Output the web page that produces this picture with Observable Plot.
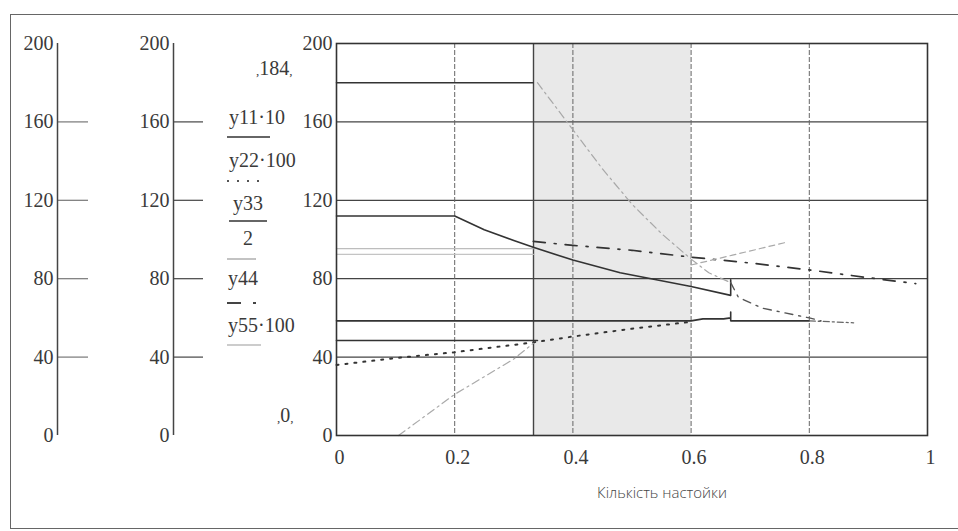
<!DOCTYPE html>
<html>
<head>
<meta charset="utf-8">
<script src="https://cdn.jsdelivr.net/npm/d3@7"></script>
<script src="https://cdn.jsdelivr.net/npm/@observablehq/plot@0.6"></script>
<style>
  body { margin: 0; background: #fff; }
  #wrap { position: relative; width: 958px; height: 531px; background: #fff; overflow: hidden; font-family: "Liberation Serif", "DejaVu Serif", serif; color: #3a3a3a; }
  .abs { position: absolute; }
  .lg { position: absolute; font-size: 20px; line-height: 20px; white-space: nowrap; color: #3a3a3a; }
  #outer { position: absolute; left: 10px; top: 14px; width: 1000px; height: 513px; border: 1.5px solid #666; border-right: none; }
  #xtitle { position: absolute; left: 662px; top: 482px; transform: translateX(-50%); font-family: "Open Sans", sans-serif; font-weight: 300; font-size: 15px; color: #444; white-space: nowrap; }
</style>
</head>
<body>
<div id="wrap">
  <div id="outer"></div>
  <div id="ax1" class="abs" style="left:0;top:0"></div>
  <div id="ax2" class="abs" style="left:0;top:0"></div>
  <div id="main" class="abs" style="left:0;top:0"></div>
  <div id="legend"></div>
  <div id="xtitle"></div>
</div>
<script>
// ---- tick values ----
const xTicks = [0, 0.2, 0.4, 0.6, 0.8, 1];
const yTicks = [0, 40, 80, 120, 160, 200];
const gridX = [0.2, 0.4, 0.6, 0.8];
const gridY = [40, 80, 120, 160];
const shadeX = [1 / 3, 0.6];
const dividerX = [1 / 3];

// ---- texts ----
const xTitle = "Кількість настойки";
const legendLabels = ["y11·10", "y22·100", "y33", "2", "y44", "y55·100"];
const limitLabels = ["184", "0"];

// ---- series ----
const top180_x = [0, 0.333];
const top180_y = [180, 180];

const y11_x = [0, 0.2, 0.25, 0.3, 0.333, 0.4, 0.48, 0.6, 0.667, 0.667];
const y11_y = [112, 112, 105, 99.5, 96, 89.5, 83, 76, 71.5, 79.5];

const line58_x = [0, 0.6, 0.62, 0.655, 0.667, 0.667, 0.667, 0.8];
const line58_y = [58.5, 58.5, 59.5, 59.5, 60, 63, 58.5, 58.5];
const line58tail_x = [0.8, 0.875];
const line58tail_y = [58.5, 57.5];

const line48_x = [0, 0.34];
const line48_y = [48.5, 48.5];

const y22_x = [0, 0.1, 0.2, 0.333, 0.4, 0.5, 0.6];
const y22_y = [36, 39.5, 42.5, 47.5, 50.5, 54.5, 58];

const y55_x = [0.105, 0.2, 0.3, 0.333];
const y55_y = [0, 21, 39, 47];

const grayA_x = [0, 0.333];
const grayA_y = [95.3, 95.3];
const grayB_x = [0, 0.333];
const grayB_y = [92.4, 92.4];

const y44_x = [0.333, 0.4, 0.5, 0.6, 0.7, 0.8, 0.9, 0.98];
const y44_y = [99, 97, 94.5, 91, 88, 84.5, 80.5, 77.5];

const fall_x = [0.34, 0.4, 0.45, 0.5, 0.55, 0.6, 0.63, 0.667];
const fall_y = [180, 156, 136, 118, 103, 90, 83, 78];
const fallTail_x = [0.667, 0.68, 0.72, 0.8, 0.82];
const fallTail_y = [78, 70.5, 65, 60, 58.5];

const rise_x = [0.6, 0.67, 0.76];
const rise_y = [87, 92, 98.5];

const pts = (xs, ys) => xs.map((x, i) => ({x, y: ys[i]}));

const serif = "'Liberation Serif', 'DejaVu Serif', serif";
const H = 531, MT = 43, MB = 96;

// ---- main chart ----
const styles = [
  [top180_x, top180_y, {stroke: "#333", strokeWidth: 1.6}],
  [grayA_x, grayA_y, {stroke: "#bdbdbd", strokeWidth: 1.3}],
  [grayB_x, grayB_y, {stroke: "#c4c4c4", strokeWidth: 1.3}],
  [y11_x, y11_y, {stroke: "#333", strokeWidth: 1.6}],
  [line58_x, line58_y, {stroke: "#333", strokeWidth: 1.6}],
  [line58tail_x, line58tail_y, {stroke: "#666", strokeWidth: 1.3, strokeDasharray: "6,3,2,3"}],
  [line48_x, line48_y, {stroke: "#333", strokeWidth: 1.6}],
  [y22_x, y22_y, {stroke: "#333", strokeWidth: 2, strokeDasharray: "2,7"}],
  [y55_x, y55_y, {stroke: "#aaa", strokeWidth: 1.2, strokeDasharray: "8,4,2,4"}],
  [y44_x, y44_y, {stroke: "#333", strokeWidth: 1.7, strokeDasharray: "12,9,2,9"}],
  [fall_x, fall_y, {stroke: "#a8a8a8", strokeWidth: 1.2, strokeDasharray: "8,4,2,4"}],
  [fallTail_x, fallTail_y, {stroke: "#555", strokeWidth: 1.4, strokeDasharray: "8,6,2,6"}],
  [rise_x, rise_y, {stroke: "#aaa", strokeWidth: 1.2, strokeDasharray: "6,4"}]
];

const main = Plot.plot({
  width: 958, height: H,
  marginLeft: 336, marginRight: 31, marginTop: MT, marginBottom: MB,
  style: {fontFamily: serif, fontSize: "20px", color: "#3a3a3a", background: "transparent", overflow: "visible"},
  x: {domain: [0, 1]},
  y: {domain: [0, 200]},
  marks: [
    Plot.rect([shadeX], {x1: d => d[0], x2: d => d[1], y1: 0, y2: 200, fill: "#e9e9e9"}),
    Plot.ruleY(gridY, {stroke: "#444", strokeWidth: 1.2}),
    Plot.ruleX(gridX, {stroke: "#666", strokeWidth: 1, strokeDasharray: "5,2"}),
    Plot.ruleX(dividerX, {stroke: "#444", strokeWidth: 1.4}),
    ...styles.map(([xs, ys, o]) => Plot.line(pts(xs, ys), {x: "x", y: "y", ...o})),
    Plot.frame({stroke: "#333", strokeWidth: 1.6}),
    Plot.axisX({ticks: xTicks, tickSize: 0, tickPadding: 14, dx: 3, label: null, tickFormat: d3.format("~g")}),
    Plot.axisY({ticks: yTicks, tickSize: 0, tickPadding: 4, label: null})
  ]
});
document.getElementById("main").append(main);

// ---- two extra left axes ----
function sideAxis(axisLeft, tickLen, dottedTick, tickColor) {
  return Plot.plot({
    width: axisLeft + tickLen + 2, height: H,
    marginLeft: axisLeft, marginRight: 2, marginTop: MT, marginBottom: MB,
    style: {fontFamily: serif, fontSize: "20px", color: "#3a3a3a", background: "transparent", overflow: "visible"},
    x: {domain: [0, 1], axis: null},
    y: {domain: [0, 200]},
    marks: [
      Plot.ruleY(yTicks.filter(t => t > 0 && t < 200), {
        x1: 0, x2: 1, stroke: tickColor, strokeWidth: 1.2,
        strokeDasharray: d => d === dottedTick ? "2,2" : null
      }),
      Plot.ruleX([0], {y1: 0, y2: 200, stroke: "#444", strokeWidth: 1.5}),
      Plot.axisY({ticks: yTicks, tickSize: 0, tickPadding: 4, label: null})
    ]
  });
}
document.getElementById("ax1").append(sideAxis(57, 31, 160, "#777"));
document.getElementById("ax2").append(sideAxis(173, 30, null, "#444"));

// ---- legend (Mathcad trace labels) ----
const leg = document.getElementById("legend");
function put(html, left, top, extra = "") {
  const d = document.createElement("div");
  d.className = "lg";
  d.style.left = left + "px";
  d.style.top = top + "px";
  if (extra) d.style.cssText += extra;
  d.innerHTML = html;
  leg.append(d);
}
function swatch(left, top, w, stroke, dash, sw) {
  put(`<svg width="${w}" height="4" style="display:block"><line x1="0" y1="2" x2="${w}" y2="2" stroke="${stroke}" stroke-width="${sw}" ${dash ? `stroke-dasharray="${dash}"` : ""}/></svg>`, left, top);
}
put(`<span style="font-size:13px">,</span>${limitLabels[0]}<span style="font-size:13px">,</span>`, 256, 58);
put(legendLabels[0], 229, 107);
swatch(227, 135, 43, "#333", null, 1.6);
put(legendLabels[1], 229, 150);
swatch(227, 179, 33, "#555", "2,8", 2);
put(legendLabels[2], 233, 193);
swatch(229, 219, 38, "#333", null, 1.6);
put(legendLabels[3], 243, 228);
swatch(227, 257, 29, "#aaa", null, 1.4);
put(legendLabels[4], 228, 268);
swatch(227, 301, 30, "#444", "14,12,3,20", 2);
put(legendLabels[5], 228, 315);
swatch(227, 343, 34, "#bbb", null, 1.4);
put(`<span style="font-size:13px">,</span>${limitLabels[1]}<span style="font-size:13px">,</span>`, 277, 405);

document.getElementById("xtitle").textContent = xTitle;
</script>
</body>
</html>
